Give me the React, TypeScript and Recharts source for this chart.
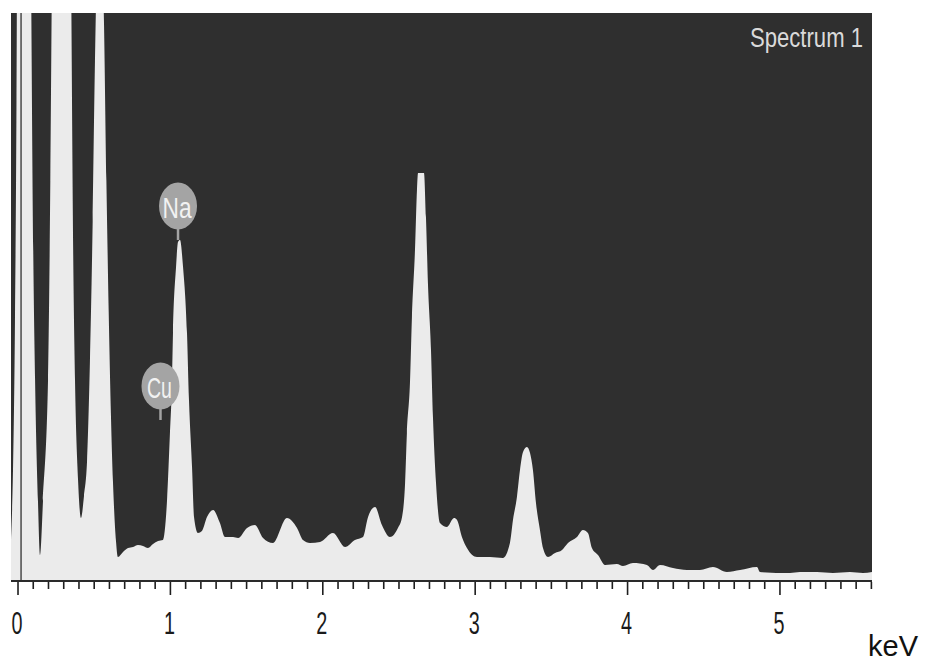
import React from "react";
import {
  AreaChart,
  Area,
  XAxis,
  YAxis,
  CartesianGrid,
  ReferenceLine,
  ReferenceDot,
} from "recharts";

const energies = [
  -0.046, -0.033, -0.02, -0.01, 0.0, 0.05, 0.085, 0.1, 0.112, 0.131, 0.144, 0.164, 0.197,
  0.212, 0.223, 0.285, 0.348, 0.362, 0.374, 0.394, 0.413, 0.433, 0.453, 0.472, 0.49, 0.505,
  0.518, 0.531, 0.548, 0.564, 0.58, 0.595, 0.61, 0.623, 0.643, 0.656, 0.689, 0.722, 0.755,
  0.787, 0.82, 0.853, 0.886, 0.919, 0.951, 0.978, 0.997, 1.01, 1.017, 1.037, 1.05, 1.063,
  1.083, 1.109, 1.122, 1.142, 1.155, 1.181, 1.207, 1.24, 1.28, 1.325, 1.358, 1.411, 1.444,
  1.503, 1.555, 1.608, 1.673, 1.765, 1.831, 1.87, 1.916, 1.982, 2.067, 2.146, 2.211, 2.264,
  2.297, 2.343, 2.388, 2.441, 2.493, 2.52, 2.54, 2.552, 2.572, 2.585, 2.605, 2.618, 2.625,
  2.664, 2.677, 2.69, 2.71, 2.723, 2.743, 2.769, 2.815, 2.861, 2.881, 2.913, 2.946, 3.012,
  3.097, 3.182, 3.228, 3.248, 3.274, 3.294, 3.314, 3.34, 3.36, 3.379, 3.399, 3.425, 3.445,
  3.478, 3.524, 3.57, 3.609, 3.668, 3.707, 3.74, 3.766, 3.806, 3.852, 3.93, 3.97, 4.035,
  4.127, 4.167, 4.213, 4.298, 4.39, 4.475, 4.56, 4.652, 4.738, 4.849, 4.869, 5.066, 5.131,
  5.243, 5.348, 5.459, 5.545, 5.604,
];

// counts at those energies (top of the plot = 568)
const counts = [
  40, 110, 260, 480, 900, 1400, 620, 330, 201, 80, 26, 80, 201,
  400, 620, 2000, 620, 330, 201, 101, 63, 85, 120, 220, 360, 520,
  620, 680, 640, 560, 400, 270, 165, 100, 40, 24, 29, 33, 34,
  36, 35, 33, 37, 40, 41, 81, 148, 198, 248, 314, 339, 341,
  314, 248, 181, 114, 64, 48, 50, 64, 71, 58, 44, 44, 43,
  53, 56, 43, 38, 63, 53, 41, 38, 39, 48, 34, 41, 44,
  64, 74, 56, 44, 53, 64, 98, 148, 198, 264, 331, 391, 408,
  408, 364, 298, 231, 164, 98, 58, 54, 63, 61, 44, 33, 24,
  24, 23, 38, 61, 84, 111, 129, 134, 128, 111, 78, 51, 33,
  24, 28, 31, 38, 44, 51, 48, 33, 26, 16, 17, 15, 18,
  16, 11, 16, 13, 11, 11, 14, 9, 11, 14, 9, 8, 9,
  9, 8, 9, 8, 9,
];

const majorTickLabels = ["0", "1", "2", "3", "4", "5"];
const axisTicks = Array.from({ length: 57 }, (_, i) => i / 10);

const markerLabels = ["Na", "Cu"];
const markerEnergies = [1.05, 0.935];
const markerCounts = [341, 161];
const markerTextWidths = [29, 25];

const spectrumTitle = "Spectrum 1";
const unitLabel = "keV";

const chartData = energies.map((e, i) => ({ e, c: counts[i] }));

function KevTick({ x, y, payload }: any) {
  const v = payload.value as number;
  const idx = Math.round(v);
  const major = Math.abs(v - idx) < 1e-6;
  return (
    <g>
      <line
        x1={x}
        x2={x}
        y1={y + 1}
        y2={y + (major ? 14 : 8)}
        stroke="#1e1e1e"
        strokeWidth={1.6}
      />
      {major && majorTickLabels[idx] && (
        <text
          x={x - 1}
          y={y + 53}
          textAnchor="middle"
          fontFamily="'Liberation Sans', Arial, sans-serif"
          fontSize={32}
          fill="#1a1a1a"
          textLength={11}
          lengthAdjust="spacingAndGlyphs"
        >
          {majorTickLabels[idx]}
        </text>
      )}
    </g>
  );
}

function ElementMarker({ cx, cy, label, textWidth }: any) {
  const ey = cy - 34;
  return (
    <g>
      <line x1={cx} x2={cx} y1={cy} y2={ey + 20} stroke="#a3a3a3" strokeWidth={2.5} />
      <ellipse cx={cx} cy={ey} rx={19} ry={23.5} fill="#a4a4a4" />
      <text
        x={cx - 1}
        y={ey + 12}
        textAnchor="middle"
        fontFamily="'Liberation Sans', Arial, sans-serif"
        fontSize={29}
        fill="#f2f2f2"
        textLength={textWidth}
        lengthAdjust="spacingAndGlyphs"
      >
        {label}
      </text>
    </g>
  );
}

export default function App() {
  return (
    <div style={{ position: "absolute", left: 0, top: 0, width: 932, height: 664, background: "#fff" }}>
      <AreaChart
        width={932}
        height={664}
        data={chartData}
        margin={{ top: 13, right: 60, bottom: 33, left: 11 }}
      >
        <CartesianGrid fill="#2f2f2f" stroke="none" />
        <XAxis
          dataKey="e"
          type="number"
          domain={[-0.046, 5.604]}
          allowDataOverflow
          ticks={axisTicks}
          interval={0}
          height={50}
          tickSize={0}
          tickMargin={0}
          tickLine={false}
          axisLine={{ stroke: "#2a2a2a", strokeWidth: 2 }}
          tick={<KevTick />}
        />
        <YAxis type="number" domain={[0, 568]} allowDataOverflow hide />
        <Area
          type="monotone"
          dataKey="c"
          stroke="none"
          fill="#ebebeb"
          fillOpacity={1}
          isAnimationActive={false}
          dot={false}
          activeDot={false}
        />
        <ReferenceLine x={0.02} stroke="#4a4a4a" strokeWidth={1.5} />
        {markerLabels.map((label, i) => (
          <ReferenceDot
            key={label}
            x={markerEnergies[i]}
            y={markerCounts[i]}
            shape={(p: any) => (
              <ElementMarker cx={p.cx} cy={p.cy} label={label} textWidth={markerTextWidths[i]} />
            )}
          />
        ))}
      </AreaChart>
      <svg
        width={932}
        height={664}
        style={{ position: "absolute", left: 0, top: 0, pointerEvents: "none" }}
      >
        <text
          x={750}
          y={47}
          fontFamily="'Liberation Sans', Arial, sans-serif"
          fontSize={27}
          fill="#dadada"
          textLength={113}
          lengthAdjust="spacingAndGlyphs"
        >
          {spectrumTitle}
        </text>
        <text
          x={868}
          y={656}
          fontFamily="'Liberation Sans', Arial, sans-serif"
          fontSize={29}
          fill="#111"
        >
          {unitLabel}
        </text>
      </svg>
    </div>
  );
}
